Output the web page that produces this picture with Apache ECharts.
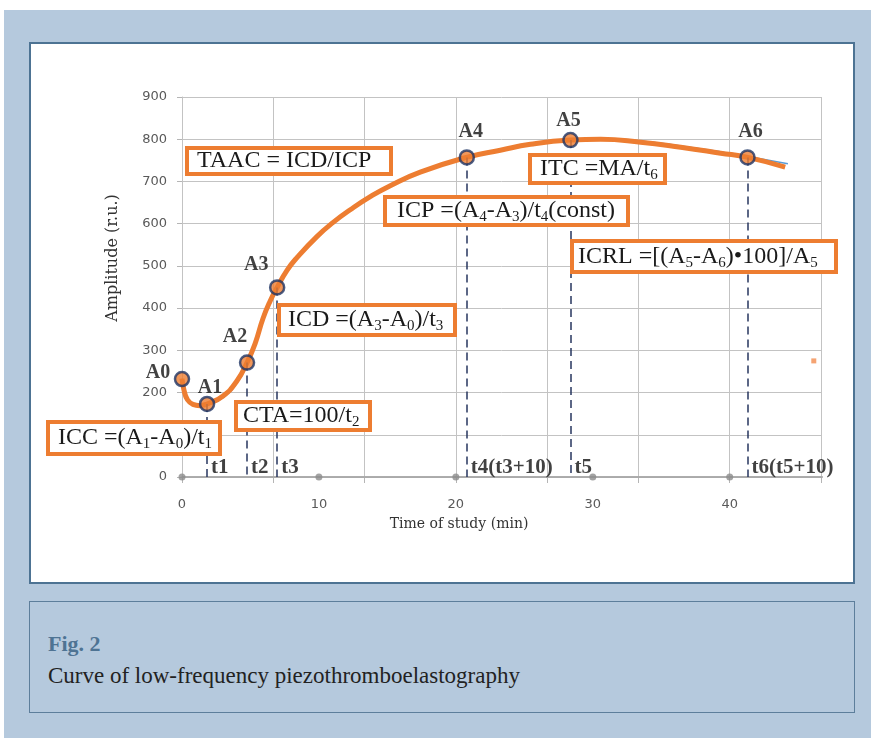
<!DOCTYPE html>
<html>
<head>
<meta charset="utf-8">
<script src="https://cdn.jsdelivr.net/npm/echarts@6/dist/echarts.min.js"></script>
<style>
html,body{margin:0;padding:0;width:871px;height:738px;overflow:hidden;background:#fff;}
#bg{position:absolute;left:4px;top:10px;width:867px;height:728px;background:#b5c9dd;}
#panel{position:absolute;left:29px;top:42px;width:826px;height:542px;box-sizing:border-box;border:2px solid #4d7393;background:#fff;}
#cap{position:absolute;left:29px;top:601px;width:826px;height:112px;box-sizing:border-box;border:1px solid #5d7e9b;background:#b5c9dd;}
#fig{position:absolute;left:18px;top:29px;line-height:26px;font:bold 22px "Liberation Serif",serif;color:#4e7393;white-space:nowrap;}
#txt{position:absolute;left:18px;top:61px;line-height:26px;font:23px "Liberation Serif",serif;color:#222;white-space:nowrap;}
#chart{position:absolute;left:0;top:0;width:871px;height:738px;}
</style>
</head>
<body>
<div id="bg"></div>
<div id="panel"></div>
<div id="cap"><div id="fig">Fig. 2</div><div id="txt">Curve of low-frequency piezothromboelastography</div></div>
<div id="chart"></div>
<script>
// ---- data ----
const curveTime = [0, 0.15, 0.4, 0.8, 1.3, 1.83, 3.0, 4.02, 4.75, 5.34, 5.92, 6.44, 6.95, 7.68, 8.41, 9.87, 11.04, 12.29, 13.75, 15.21, 17.4, 20.77, 23.25, 25.45, 28.37, 30.57, 33.49, 36.42, 39.34, 41.32, 44.05];
const curveAmp  = [233, 205, 183, 172, 169, 173, 192, 228, 271, 316, 376, 417, 449, 490, 520, 570, 603, 633, 664, 690, 722, 757, 774, 788, 798, 800, 793, 781, 767, 757, 734];
const rawTime = [0, 0.15, 0.4, 0.8, 1.3, 1.83, 3.0, 4.02, 4.75, 5.34, 5.92, 6.44, 6.95, 7.68, 8.41, 9.87, 11.04, 12.29, 13.75, 15.21, 17.4, 20.77, 23.25, 25.45, 28.37, 30.57, 33.49, 36.42, 39.34, 41.32, 44.25];
const rawAmp  = [233, 203, 181, 170, 167, 170, 188, 223, 266, 312, 372, 414, 446, 487, 518, 568, 601, 631, 662, 688, 720, 755, 772, 787, 798, 802, 796, 784, 770, 759, 742];
const pointNames = ['A0', 'A1', 'A2', 'A3', 'A4', 'A5', 'A6'];
const pointTime  = [0, 1.83, 4.75, 6.95, 20.8, 28.37, 41.3];
const pointAmp   = [232, 173, 271, 449, 757, 798, 757];
const timeLabels = ['t1', 't2', 't3', 't4(t3+10)', 't5', 't6(t5+10)'];
const xTickLabels = [0, 10, 20, 30, 40];
const yTickLabels = [0, 100, 200, 300, 400, 500, 600, 700, 800, 900];
const strayMark = [[46.14, 275]];
const axisEnd = 48.3;
const xGridStep = 20 / 3;
const xMax = xGridStep * 7;

// ---- layout / styling (not data) ----
const pointLabelOffsets = [[-24, -6], [3, -16], [-12, -26], [-21, -23], [4, -26], [-2, -19], [3, -26]];
const ORANGE = '#ED7D31';
const NAVY = '#1f3464';
const serif = '"Liberation Serif", "Times New Roman", serif';

const boxes = [
  {rect: [185, 146, 208, 30], tx: 197, text: '{n|TAAC = ICD/ICP}'},
  {rect: [528, 153, 139, 32], tx: 540, text: '{n|ITC =MA/t}{s|6}'},
  {rect: [383, 195, 247, 32], tx: 397, text: '{n|ICP =(A}{s|4}{n|-A}{s|3}{n|)/t}{s|4}{n|(const)}'},
  {rect: [570, 239, 268, 35], tx: 578, text: '{n|ICRL =[(A}{s|5}{n|-A}{s|6}{n|)•100]/A}{s|5}'},
  {rect: [277, 303, 180, 34], tx: 288, text: '{n|ICD =(A}{s|3}{n|-A}{s|0}{n|)/t}{s|3}'},
  {rect: [234, 400, 138, 32], tx: 243, text: '{n|CTA=100/t}{s|2}'},
  {rect: [46, 420, 176, 36], tx: 58, text: '{n|ICC =(A}{s|1}{n|-A}{s|0}{n|)/t}{s|1}'}
];
const rich = {
  n: {fontFamily: serif, fontSize: 24, lineHeight: 28, fill: '#1a1a1a'},
  s: {fontFamily: serif, fontSize: 15, lineHeight: 14, verticalAlign: 'bottom', fill: '#1a1a1a'}
};

const graphics = [];
boxes.forEach(b => {
  graphics.push({
    type: 'rect', z: 100,
    shape: {x: b.rect[0] + 2, y: b.rect[1] + 2, width: b.rect[2] - 4, height: b.rect[3] - 4},
    style: {fill: '#fff', stroke: ORANGE, lineWidth: 4}
  });
  graphics.push({
    type: 'text', z: 101, x: b.tx, y: b.rect[1] + b.rect[3] / 2,
    style: {text: b.text, rich: rich, align: 'left', verticalAlign: 'middle'}
  });
});
graphics.push({
  type: 'text', z: 50, x: 113, y: 258, rotation: Math.PI / 2,
  style: {text: 'Amplitude (r.u.)', font: '16px "DejaVu Serif", serif', fill: '#333', align: 'center', verticalAlign: 'middle'}
});
graphics.push({
  type: 'text', z: 50, x: 459, y: 524,
  style: {text: 'Time of study (min)', font: '14px "DejaVu Serif", serif', fill: '#333', align: 'center', verticalAlign: 'middle'}
});

const zip = (a, b) => a.map((v, i) => [v, b[i]]);

const chart = echarts.init(document.getElementById('chart'), null, {renderer: 'canvas'});
chart.setOption({
  animation: false,
  backgroundColor: 'transparent',
  grid: {left: 182, right: 50, top: 97, bottom: 261},
  xAxis: {
    type: 'value', min: 0, max: xMax, interval: xGridStep,
    axisLine: {show: true, lineStyle: {color: '#a8a8a8', width: 1.5}},
    axisTick: {show: true, length: 6, lineStyle: {color: '#b5b5b5'}},
    splitLine: {show: true, lineStyle: {color: '#c3c3c3', width: 1}},
    axisLabel: {
      customValues: xTickLabels, margin: 21,
      fontFamily: '"DejaVu Sans", sans-serif', fontSize: 13, color: '#595959',
      formatter: v => String(Math.round(v))
    }
  },
  yAxis: {
    type: 'value', min: 0, max: 900, interval: 100,
    axisLine: {show: true, lineStyle: {color: '#c3c3c3'}},
    axisTick: {show: true, length: 5, lineStyle: {color: '#b5b5b5'}},
    splitLine: {show: true, lineStyle: {color: '#c3c3c3', width: 1}},
    axisLabel: {
      customValues: yTickLabels, margin: 15,
      fontFamily: '"DejaVu Sans", sans-serif', fontSize: 13, color: '#595959'
    }
  },
  graphic: {elements: graphics},
  series: [
    {
      type: 'line', z: 1, clip: false, symbol: 'none', silent: true,
      data: [[0, 0], [axisEnd, 0]],
      lineStyle: {color: '#a8a8a8', width: 1.5}
    },
    {
      type: 'line', z: 2, symbol: 'none', silent: true, smooth: 0.5,
      data: zip(rawTime, rawAmp),
      lineStyle: {color: '#5b9bd5', width: 1.5}
    },
    {
      type: 'line', z: 3, symbol: 'none', silent: true, smooth: 0.5,
      data: zip(curveTime, curveAmp),
      lineStyle: {color: ORANGE, width: 5},
      markLine: {
        silent: true, symbol: ['none', 'none'], label: {show: false},
        lineStyle: {type: [8, 5], color: '#27365f', width: 1.5},
        data: pointTime.slice(1).map((t, i) => [{coord: [t, pointAmp[i + 1]]}, {coord: [t, 0]}])
      }
    },
    {
      type: 'scatter', z: 4, symbolSize: 7, silent: true,
      data: xTickLabels.map(t => [t, 0]),
      itemStyle: {color: '#8c8c8c'}
    },
    {
      type: 'scatter', z: 4, symbol: 'rect', symbolSize: 5, silent: true,
      data: strayMark,
      itemStyle: {color: '#F28C4F'}
    },
    {
      type: 'scatter', z: 6, symbol: 'circle', symbolSize: 14, silent: true,
      data: pointTime.map((t, i) => ({
        value: [t, pointAmp[i]],
        label: {offset: pointLabelOffsets[i]}
      })),
      itemStyle: {color: ORANGE, borderColor: NAVY, borderWidth: 2.5},
      label: {
        show: true, position: 'inside',
        formatter: p => pointNames[p.dataIndex],
        fontFamily: serif, fontWeight: 'bold', fontSize: 20, color: '#111'
      }
    },
    {
      type: 'scatter', z: 6, symbolSize: 0, silent: true,
      data: pointTime.slice(1).map(t => [t, 0]),
      label: {
        show: true, position: 'right', distance: 4, offset: [0, -9],
        formatter: p => timeLabels[p.dataIndex],
        fontFamily: serif, fontWeight: 'bold', fontSize: 21, color: '#111'
      }
    }
  ]
});
</script>
</body>
</html>
